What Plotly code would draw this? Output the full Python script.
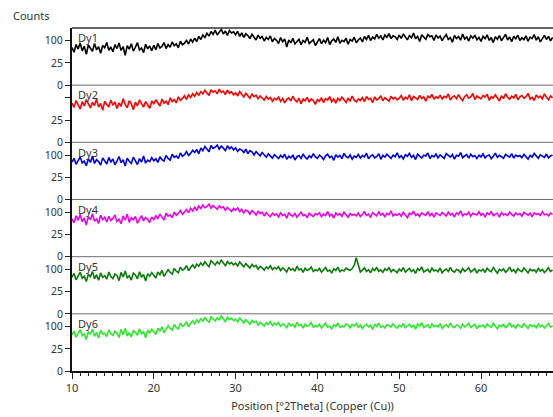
import numpy as np
import plotly.graph_objects as go
from plotly.subplots import make_subplots

# Measurement grid: 2Theta from 10 to 68.75 degrees, step 0.25
two_theta = np.round(np.arange(10.0, 68.76, 0.25), 2)

sample_names = ["Dy1", "Dy2", "Dy3", "Dy4", "Dy5", "Dy6"]
line_colors = ["#000000", "#ff0000", "#0000e0", "#ee00ee", "#0b7a0b", "#2ee82e"]

# Intensities (counts), one row per 5 degrees
dy1 = [72, 55, 84, 66, 91, 60, 77, 48, 82, 69, 58, 88, 64, 75, 52, 80, 71, 93, 62, 74,
       57, 83, 68, 90, 61, 76, 45, 79, 66, 87, 59, 73, 92, 63, 70, 54, 85, 67, 78, 60,
       81, 64, 88, 70, 76, 92, 68, 84, 73, 95, 79, 87, 71, 98, 83, 90, 102, 86, 108, 94,
       112, 97, 121, 106, 128, 115, 137, 122, 146, 131, 154, 128, 141, 158, 133, 149, 126, 152, 138, 145,
       129, 148, 121, 139, 116, 134, 125, 110, 131, 118, 104, 127, 112, 120, 99, 116, 106, 123, 95, 111,
       102, 88, 115, 96, 108, 74, 104, 91, 112, 86, 99, 107, 83, 101, 93, 117, 88, 97, 105, 80,
       98, 110, 87, 103, 92, 115, 84, 100, 108, 93, 119, 89, 102, 96, 112, 85, 106, 99, 117, 91,
       104, 113, 95, 120, 106, 126, 101, 118, 109, 131, 112, 123, 104, 128, 116, 135, 110, 124, 119, 106,
       127, 111, 133, 118, 104, 125, 114, 138, 109, 121, 97, 129, 116, 107, 131, 119, 124, 102, 128, 113,
       122, 101, 117, 130, 106, 115, 94, 126, 111, 120, 103, 133, 108, 118, 99, 124, 112, 127, 105, 116,
       97, 121, 110, 129, 102, 115, 92, 119, 107, 125, 100, 113, 131, 104, 118, 96, 122, 109, 127, 101,
       114, 105, 124, 98, 117, 110, 130, 103, 119, 95, 112, 126, 106, 121, 100, 116]

dy2 = [78, 62, 89, 71, 56, 84, 67, 93, 74, 60, 81, 69, 95, 63, 77, 52, 86, 72, 65, 90,
       70, 83, 58, 79, 66, 97, 73, 61, 88, 75, 54, 82, 68, 91, 76, 63, 85, 71, 59, 87,
       74, 92, 80, 67, 95, 78, 86, 72, 101, 84, 93, 79, 106, 89, 98, 110, 94, 115, 102, 120,
       108, 126, 113, 131, 119, 138, 124, 112, 141, 128, 135, 120, 144, 127, 133, 116, 139, 122, 130, 114,
       125, 109, 131, 117, 104, 123, 111, 99, 118, 106, 113, 96, 109, 101, 90, 107, 95, 102, 86, 98,
       92, 104, 85, 97, 79, 94, 100, 87, 108, 91, 83, 99, 76, 95, 88, 103, 82, 96, 89, 73,
       93, 86, 101, 80, 97, 91, 106, 84, 95, 78, 99, 88, 104, 92, 81, 98, 87, 109, 90, 83,
       96, 89, 102, 84, 107, 93, 98, 80, 105, 91, 97, 110, 88, 101, 94, 86, 108, 95, 103, 92,
       99, 111, 90, 104, 96, 115, 88, 107, 100, 93, 112, 97, 105, 86, 109, 101, 117, 94, 106, 98,
       113, 95, 108, 102, 119, 91, 104, 110, 97, 116, 100, 88, 107, 114, 99, 105, 121, 93, 109, 101,
       96, 112, 104, 118, 90, 106, 99, 115, 102, 87, 110, 97, 120, 103, 94, 108, 100, 117, 92, 105,
       111, 98, 106, 122, 95, 103, 89, 114, 101, 108, 96, 119, 104, 92, 110, 100]

dy3 = [71, 86, 63, 79, 92, 68, 75, 58, 84, 70, 95, 66, 81, 73, 60, 88, 77, 64, 90, 72,
       83, 61, 76, 94, 69, 80, 57, 87, 74, 66, 91, 78, 62, 85, 71, 96, 67, 79, 73, 89,
       76, 84, 70, 93, 81, 75, 98, 86, 79, 104, 90, 97, 85, 110, 95, 102, 117, 99, 108, 123,
       112, 128, 106, 135, 121, 143, 127, 116, 148, 132, 139, 150, 129, 145, 134, 122, 147, 131, 140, 125,
       136, 118, 130, 124, 112, 129, 107, 121, 115, 101, 117, 108, 96, 112, 103, 91, 106, 98, 87, 102,
       94, 85, 99, 90, 104, 82, 95, 88, 101, 79, 93, 98, 86, 105, 91, 83, 97, 89, 107, 92,
       86, 100, 93, 81, 97, 104, 89, 95, 78, 102, 91, 99, 85, 108, 94, 88, 101, 83, 96, 90,
       103, 87, 98, 92, 109, 84, 96, 101, 88, 94, 106, 82, 99, 91, 104, 95, 86, 100, 93, 111,
       89, 97, 84, 102, 95, 108, 90, 99, 81, 104, 93, 87, 100, 96, 110, 85, 98, 92, 105, 88,
       101, 94, 86, 107, 97, 91, 103, 83, 99, 95, 112, 89, 96, 102, 87, 104, 93, 98, 85, 100,
       92, 106, 88, 97, 101, 84, 95, 109, 90, 99, 93, 86, 103, 96, 91, 107, 87, 100, 94, 98,
       89, 104, 95, 83, 99, 92, 108, 97, 86, 101, 94, 90, 105, 88, 96, 100]

dy4 = [73, 58, 85, 67, 90, 62, 76, 51, 81, 69, 94, 64, 72, 56, 87, 70, 79, 61, 83, 66,
       75, 88, 63, 71, 55, 84, 68, 92, 60, 77, 69, 82, 57, 74, 86, 65, 78, 71, 59, 80,
       70, 85, 74, 92, 79, 68, 96, 83, 89, 77, 101, 87, 95, 108, 91, 104, 113, 98, 119, 106,
       124, 111, 130, 117, 136, 122, 128, 140, 119, 133, 125, 114, 131, 120, 126, 109, 123, 115, 104, 118,
       110, 121, 103, 114, 97, 111, 106, 92, 108, 99, 88, 104, 95, 101, 84, 98, 90, 81, 96, 87,
       93, 80, 97, 86, 91, 75, 99, 88, 83, 95, 79, 92, 101, 85, 90, 77, 96, 87, 82, 94,
       89, 98, 81, 93, 86, 103, 84, 91, 76, 97, 88, 94, 83, 100, 90, 79, 95, 87, 92, 85,
       97, 82, 90, 104, 86, 93, 78, 99, 91, 85, 102, 88, 95, 80, 96, 89, 106, 84, 92, 87,
       94, 83, 100, 89, 77, 96, 91, 105, 86, 93, 82, 98, 90, 87, 103, 85, 95, 79, 97, 91,
       86, 99, 92, 84, 101, 88, 95, 80, 97, 90, 107, 85, 93, 89, 100, 83, 96, 91, 88, 102,
       87, 94, 81, 98, 90, 104, 85, 92, 96, 79, 99, 88, 93, 86, 101, 91, 84, 97, 89, 95,
       83, 100, 92, 87, 96, 80, 98, 90, 94, 86, 103, 89, 92, 85, 97, 91]

dy5 = [68, 83, 59, 76, 88, 64, 72, 53, 80, 70, 91, 62, 78, 57, 85, 67, 74, 61, 89, 71,
       63, 81, 75, 56, 87, 69, 93, 66, 73, 58, 84, 77, 62, 90, 68, 79, 55, 82, 72, 86,
       74, 65, 89, 78, 96, 71, 84, 99, 88, 80, 105, 92, 86, 111, 97, 103, 118, 94, 109, 122,
       107, 126, 115, 132, 119, 138, 124, 113, 143, 129, 121, 137, 126, 146, 131, 118, 139, 127, 134, 122,
       130, 116, 137, 121, 112, 128, 118, 106, 124, 113, 119, 101, 115, 108, 97, 112, 104, 117, 99, 109,
       102, 113, 95, 107, 100, 89, 110, 97, 104, 92, 115, 98, 103, 87, 106, 96, 101, 112, 91, 99,
       94, 105, 88, 99, 109, 92, 97, 84, 103, 95, 111, 90, 98, 93, 106, 100, 96, 104, 121, 160,
       117, 89, 97, 107, 91, 99, 85, 104, 95, 110, 92, 98, 87, 103, 96, 108, 90, 100, 94, 86,
       102, 93, 109, 88, 97, 105, 91, 99, 83, 104, 96, 112, 89, 95, 101, 87, 106, 93, 98, 90,
       107, 85, 96, 102, 91, 110, 94, 88, 100, 97, 86, 104, 92, 99, 108, 89, 95, 103, 84, 98,
       93, 101, 87, 106, 95, 90, 109, 97, 84, 100, 94, 103, 88, 96, 111, 92, 99, 86, 104, 95,
       90, 107, 97, 85, 102, 94, 99, 88, 105, 93, 100, 87, 96, 108, 91, 98]

dy6 = [66, 81, 58, 74, 87, 63, 70, 50, 79, 68, 90, 61, 76, 55, 84, 69, 73, 60, 86, 71,
       64, 80, 73, 57, 88, 67, 92, 62, 75, 59, 83, 76, 65, 91, 70, 78, 56, 85, 72, 89,
       77, 68, 93, 81, 99, 74, 88, 104, 92, 85, 110, 96, 90, 117, 101, 108, 124, 99, 115, 128,
       113, 132, 120, 139, 126, 145, 131, 119, 150, 135, 127, 144, 133, 154, 138, 124, 147, 134, 141, 129,
       137, 122, 143, 128, 117, 134, 124, 112, 130, 119, 126, 107, 121, 114, 103, 118, 110, 124, 105, 116,
       108, 119, 101, 113, 106, 95, 117, 103, 110, 98, 121, 104, 109, 93, 112, 102, 107, 118, 97, 105,
       100, 111, 94, 106, 116, 98, 103, 90, 109, 101, 118, 96, 104, 99, 113, 107, 95, 110, 102, 115,
       97, 108, 92, 104, 112, 99, 106, 88, 110, 101, 117, 96, 103, 94, 109, 105, 98, 114, 100, 93,
       107, 99, 115, 95, 104, 111, 97, 106, 89, 112, 102, 119, 96, 101, 108, 93, 113, 100, 105, 98,
       114, 92, 103, 109, 98, 117, 101, 95, 107, 104, 93, 111, 99, 106, 116, 96, 102, 110, 91, 105,
       100, 108, 94, 113, 102, 97, 116, 104, 91, 107, 101, 110, 95, 103, 118, 99, 106, 93, 111, 102,
       97, 114, 104, 92, 109, 101, 106, 95, 112, 100, 107, 94, 103, 115, 98, 105]

series = [dy1, dy2, dy3, dy4, dy5, dy6]

# Square-root intensity scale: ticks at 0, 25 and 100 counts
tick_counts = [0, 25, 100]
y_max_counts = 166
x_range = [10, 68.8]

font_family = "Noto Sans, Open Sans, DejaVu Sans, sans-serif"
text_color = "#333333"

fig = make_subplots(rows=6, cols=1, shared_xaxes=True, vertical_spacing=0)

for i, (name, vals, col) in enumerate(zip(sample_names, series, line_colors)):
    row = i + 1
    n = min(len(vals), len(two_theta))
    fig.add_trace(
        go.Scatter(x=two_theta[:n], y=np.sqrt(np.array(vals[:n], dtype=float)),
                   mode="lines", line=dict(color=col, width=1.6),
                   name=name, showlegend=False),
        row=row, col=1)
    labels = [str(t) for t in tick_counts]
    if row == 2:
        labels[-1] = ""
    fig.update_yaxes(
        range=[0, np.sqrt(y_max_counts)],
        tickvals=np.sqrt(tick_counts), ticktext=labels,
        ticks="outside", ticklen=5, tickwidth=1, tickcolor="#222222",
        showline=True, linecolor="#111111", linewidth=2,
        showgrid=False, zeroline=False, fixedrange=True,
        tickfont=dict(size=10.5, color=text_color, family=font_family),
        row=row, col=1)
    fig.update_xaxes(range=x_range, showgrid=False, zeroline=False,
                     showline=False, ticks="", showticklabels=False,
                     row=row, col=1)

fig.update_xaxes(
    showline=True, linecolor="#111111", linewidth=2,
    ticks="outside", ticklen=6, tickwidth=1, tickcolor="#222222",
    showticklabels=True, tick0=10, dtick=10,
    minor=dict(ticks="outside", ticklen=3, dtick=1, tickcolor="#222222"),
    tickfont=dict(size=11, color=text_color, family=font_family),
    title=dict(text="Position [°2Theta] (Copper (Cu))", standoff=8,
               font=dict(size=11, color=text_color, family=font_family)),
    row=6, col=1)

# Panel top borders and separators, with sample labels
for i in range(6):
    yref = "y domain" if i == 0 else f"y{i + 1} domain"
    fig.add_shape(type="line", xref="paper", yref=yref,
                  x0=0, x1=1, y0=1, y1=1,
                  line=dict(color="#333333" if i == 0 else "#6e6e6e",
                            width=1.5 if i == 0 else 1))
    fig.add_annotation(text=sample_names[i], xref="paper", yref=yref,
                       x=0.008, y=0.995, xanchor="left", yanchor="top",
                       showarrow=False,
                       font=dict(size=11, color=text_color, family=font_family))

fig.add_annotation(text="Counts", xref="paper", yref="paper",
                   x=-0.085, y=1.0, xanchor="center", yanchor="bottom",
                   yshift=3, showarrow=False,
                   font=dict(size=11, color=text_color, family=font_family))

fig.update_layout(
    width=553, height=417,
    margin=dict(l=72, r=0, t=28, b=46),
    paper_bgcolor="white", plot_bgcolor="white",
    font=dict(family=font_family, color=text_color),
)

fig.write_html("out.html")
